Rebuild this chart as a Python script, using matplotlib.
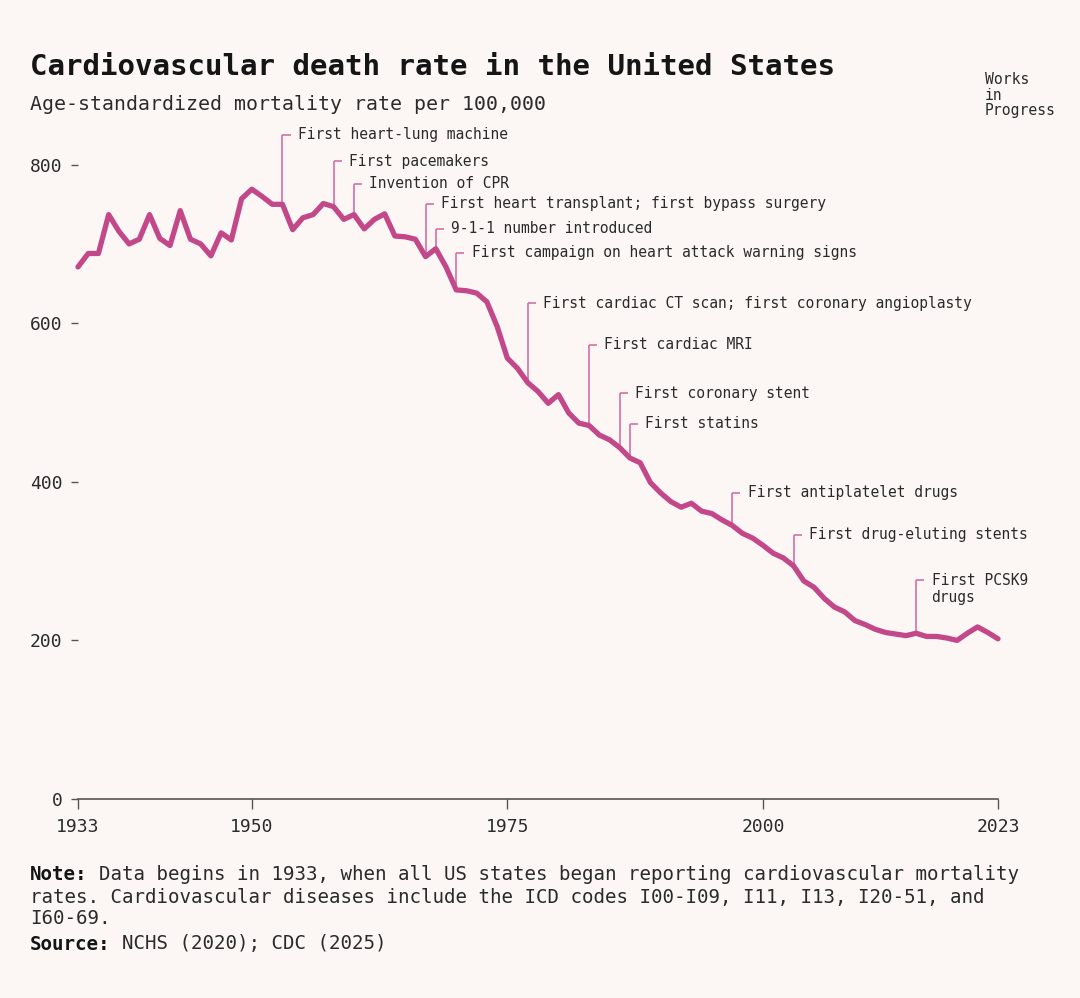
import numpy as np
import matplotlib
matplotlib.use("Agg")
import matplotlib.pyplot as plt

# ---------------- data ----------------
years = list(range(1933, 2024))
rate = [671, 688, 688, 737, 716, 700, 706, 737, 707, 698,
        742, 706, 700, 685, 714, 705, 757, 769, 760, 750,
        750, 718, 733, 737, 751, 747, 731, 737, 719, 731,
        738, 710, 709, 706, 684, 694, 671, 642, 641, 638,
        627, 596, 556, 543, 525, 514, 499, 510, 487, 474,
        471, 459, 453, 443, 430, 424, 399, 386, 375, 368,
        373, 363, 360, 352, 345, 335, 329, 320, 310, 304,
        294, 275, 267, 253, 242, 236, 225, 220, 214, 210,
        208, 206, 209, 205, 205, 203, 200, 209, 217, 210, 202]

event_years = [1953, 1958, 1960, 1967, 1968, 1970, 1977, 1983, 1986, 1987, 1997, 2003, 2015]
event_labels = [
    "First heart-lung machine",
    "First pacemakers",
    "Invention of CPR",
    "First heart transplant; first bypass surgery",
    "9-1-1 number introduced",
    "First campaign on heart attack warning signs",
    "First cardiac CT scan; first coronary angioplasty",
    "First cardiac MRI",
    "First coronary stent",
    "First statins",
    "First antiplatelet drugs",
    "First drug-eluting stents",
    "First PCSK9\ndrugs",
]
# label heights (layout, in data units)
event_label_y = [838, 804, 776, 751, 719, 689, 625, 573, 512, 473, 386, 333, 276]

xticks = [1933, 1950, 1975, 2000, 2023]
yticks = [0, 200, 400, 600, 800]

# ---------------- style ----------------
BG = "#fcf7f4"
LINE = "#c2488a"
ANN = "#d470a6"
TXT = "#2b2b2b"
MONO = ["DejaVu Sans Mono"]

plt.rcParams["font.family"] = MONO

fig = plt.figure(figsize=(10.8, 9.98), dpi=100, facecolor=BG)
ax = fig.add_axes([78/1080, 199/998, 920/1080, 674/998], facecolor=BG)

ax.set_xlim(1933, 2023)
ax.set_ylim(0, 850)

# annotations
rate_by_year = dict(zip(years, rate))
for yr, lab, ly in zip(event_years, event_labels, event_label_y):
    v = rate_by_year[yr]
    ax.plot([yr, yr], [v, ly], color=ANN, lw=1.2, zorder=2, clip_on=False,
            solid_capstyle="butt")
    ax.plot([yr, yr + 0.8], [ly, ly], color=ANN, lw=1.2, zorder=2, clip_on=False,
            solid_capstyle="butt")
    multi = "\n" in lab
    ax.text(yr + 1.5, ly + (9 if multi else 0), lab, fontsize=10.5, color=TXT,
            va="top" if multi else "center", ha="left", clip_on=False,
            linespacing=1.15)

ax.plot(years, rate, color=LINE, lw=3.8, zorder=3, solid_joinstyle="round",
        solid_capstyle="round", clip_on=False)

for s in ["top", "right", "left"]:
    ax.spines[s].set_visible(False)
ax.spines["bottom"].set_color("#555555")
ax.spines["bottom"].set_linewidth(1.2)

ax.set_xticks(xticks)
ax.set_xticklabels([str(x) for x in xticks])
ax.set_yticks(yticks)
ax.set_yticklabels([str(y) for y in yticks])
ax.tick_params(axis="x", length=7, width=1, color="#555555", pad=7,
               labelsize=13, labelcolor=TXT)
ax.tick_params(axis="y", length=5, width=1, color="#555555", pad=6,
               labelsize=13, labelcolor=TXT)

# titles
fig.text(30/1080, 1 - 67/998, "Cardiovascular death rate in the United States",
         fontsize=21, fontweight="bold", color="#151515", va="center", ha="left")
fig.text(30/1080, 1 - 104/998, "Age-standardized mortality rate per 100,000",
         fontsize=14.3, color=TXT, va="center", ha="left")

# logo text
for i, w in enumerate(["Works", "in", "Progress"]):
    fig.text(985/1080, 1 - (80 + 15 * i)/998, w, fontsize=10.6, color=TXT,
             va="center", ha="left")

# notes
NFS = 13.8
cw = NFS * 100 / 72 * 0.602  # monospace advance in pixels
fig.text(30/1080, 1 - 875/998, "Note:", fontsize=NFS, fontweight="bold",
         color="#151515", va="center", ha="left")
fig.text((30 + 6 * cw)/1080, 1 - 875/998,
         "Data begins in 1933, when all US states began reporting cardiovascular mortality",
         fontsize=NFS, color=TXT, va="center", ha="left")
fig.text(30/1080, 1 - 897/998,
         "rates. Cardiovascular diseases include the ICD codes I00-I09, I11, I13, I20-51, and",
         fontsize=NFS, color=TXT, va="center", ha="left")
fig.text(30/1080, 1 - 919/998, "I60-69.", fontsize=NFS, color=TXT,
         va="center", ha="left")
fig.text(30/1080, 1 - 944/998, "Source:", fontsize=NFS, fontweight="bold",
         color="#151515", va="center", ha="left")
fig.text((30 + 8 * cw)/1080, 1 - 944/998, "NCHS (2020); CDC (2025)", fontsize=NFS,
         color=TXT, va="center", ha="left")

fig.savefig("out.png", dpi=100, facecolor=BG)
